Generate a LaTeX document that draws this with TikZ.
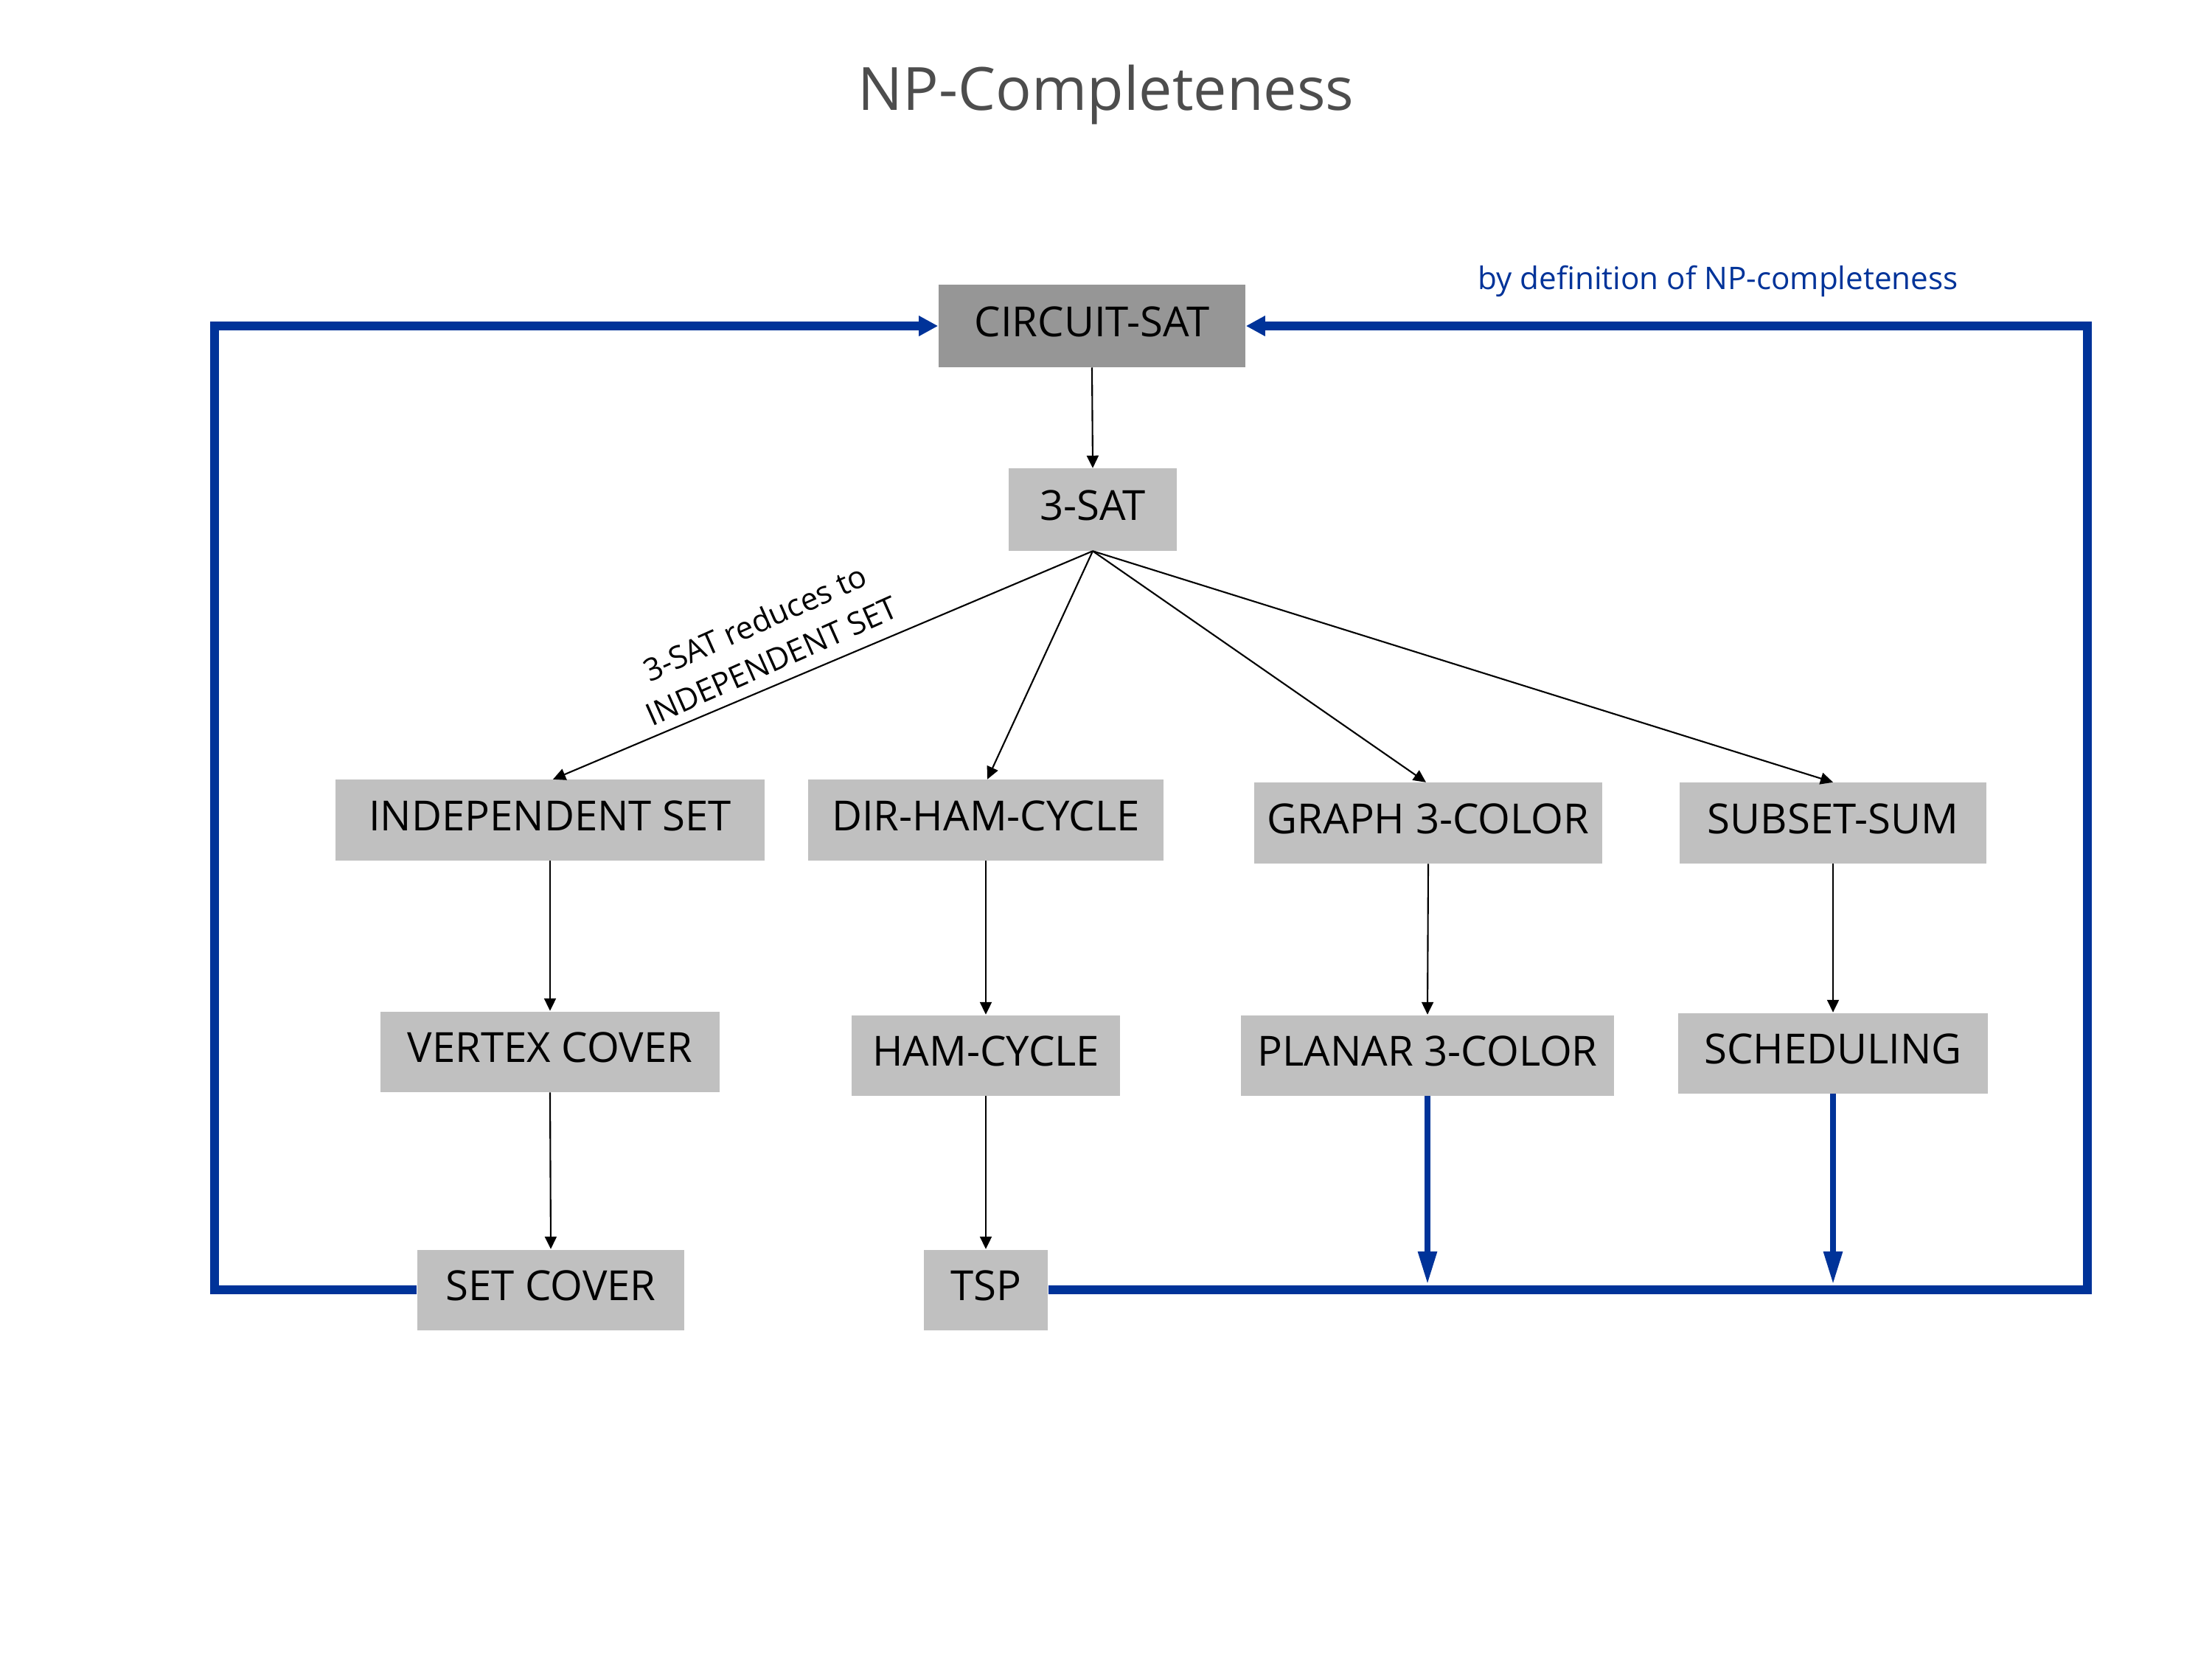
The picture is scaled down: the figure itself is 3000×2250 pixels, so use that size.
\documentclass[tikz,border=0pt]{standalone}
\usepackage{fontspec}
\setmainfont{Open Sans}
\usetikzlibrary{arrows.meta}
\definecolor{ncblue}{RGB}{0,51,153}
\definecolor{boxgray}{RGB}{192,192,192}
\definecolor{darkbox}{RGB}{150,150,150}
\definecolor{titlegray}{RGB}{77,77,77}
\begin{document}
\begin{tikzpicture}[x=0.01cm,y=-0.01cm,
  prob/.style={fill=boxgray, minimum height=1.09cm, inner sep=0pt, text depth=0.12cm, font=\fontsize{16}{19}\selectfont},
  redarrow/.style={draw=black, line width=0.6pt, -{Triangle[length=0.17cm,width=0.16cm]}},
  loopline/.style={draw=ncblue, line width=0.12cm, line join=miter, -{Triangle[length=0.26cm,width=0.26cm]}},
  downarr/.style={draw=ncblue, line width=0.085cm, -{Triangle[length=0.45cm,width=0.24cm]}}]
\useasboundingbox (0,0) rectangle (3000,2250);
\node[anchor=base, text=titlegray, font=\fontsize{23}{27}\selectfont] (title) at (1500,149) {NP-Completeness};
\node[anchor=base, text=ncblue, font=\fontsize{12}{14}\selectfont] (bydef) at (2330,392) {by definition of NP-completeness};

\node[prob, fill=darkbox, minimum width=4.16cm, minimum height=1.11cm] (circ) at (1481,442) {CIRCUIT-SAT};
\node[prob, minimum width=2.28cm, minimum height=1.11cm] (sat) at (1482,691) {3-SAT};
\node[prob, minimum width=5.82cm] (is) at (746,1112) {INDEPENDENT SET};
\node[prob, minimum width=4.82cm] (dhc) at (1337,1112) {DIR-HAM-CYCLE};
\node[prob, minimum width=4.72cm] (g3c) at (1937,1116) {GRAPH 3-COLOR};
\node[prob, minimum width=4.16cm] (ss) at (2486,1116) {SUBSET-SUM};
\node[prob, minimum width=4.59cm] (vc) at (746,1426) {VERTEX COVER};
\node[prob, minimum width=3.64cm] (hc) at (1337,1431) {HAM-CYCLE};
\node[prob, minimum width=5.06cm] (p3c) at (1936,1431) {PLANAR 3-COLOR};
\node[prob, minimum width=4.19cm] (sched) at (2486,1428) {SCHEDULING};
\node[prob, minimum width=3.62cm] (sc) at (747,1749) {SET COVER};
\node[prob, minimum width=1.68cm] (tsp) at (1337,1749) {TSP};

\draw[redarrow] (circ.south) -- (sat.north);
\draw[redarrow] (sat.south) -- ([xshift=0.04cm]is.north);
\draw[redarrow] (sat.south) -- ([xshift=0.02cm]dhc.north);
\draw[redarrow] (sat.south) -- ([xshift=-0.03cm]g3c.north);
\draw[redarrow] (sat.south) -- (ss.north);
\draw[redarrow] (is.south) -- (vc.north);
\draw[redarrow] (vc.south) -- (sc.north);
\draw[redarrow] (dhc.south) -- (hc.north);
\draw[redarrow] (hc.south) -- (tsp.north);
\draw[redarrow] (g3c.south) -- (p3c.north);
\draw[redarrow] (ss.south) -- (sched.north);

\node[rotate=24, align=center, font=\fontsize{12}{16}\selectfont] (lab) at (1035,870) {3-SAT reduces to\\INDEPENDENT SET};

\coordinate (lb) at (291,1749);
\coordinate (lt) at (291,442);
\coordinate (rb) at (2831,1749);
\coordinate (rt) at (2831,442);
\draw[loopline] (sc.west) -- (lb) -- (lt) -- (circ.west);
\draw[loopline] (tsp.east) -- (rb) -- (rt) -- (circ.east);

\coordinate (p3cend) at (1936,1742);
\coordinate (schedend) at (2486,1742);
\draw[downarr] (p3c.south) -- (p3cend);
\draw[downarr] (sched.south) -- (schedend);
\end{tikzpicture}
\end{document}
